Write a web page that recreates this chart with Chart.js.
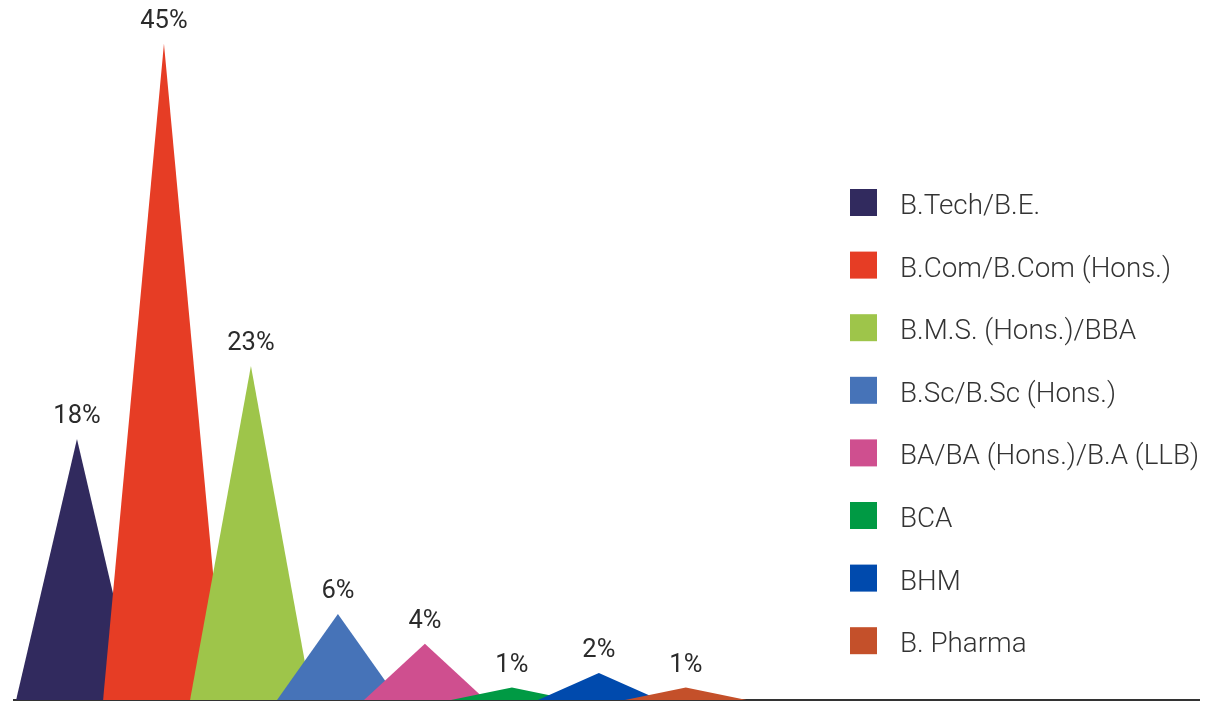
<!DOCTYPE html>
<html>
<head>
<meta charset="utf-8">
<script src="https://cdn.jsdelivr.net/npm/chart.js@4.4.1/dist/chart.umd.min.js"></script>
<style>
  html, body { margin: 0; padding: 0; background: #fff; }
  #wrap { width: 1209px; height: 701px; position: relative; }
</style>
</head>
<body>
<div id="wrap"><canvas id="chart"></canvas></div>
<script>
// degree share (%) - peak heights
const courses = ["B.Tech/B.E.", "B.Com/B.Com (Hons.)", "B.M.S. (Hons.)/BBA", "B.Sc/B.Sc (Hons.)",
  "BA/BA (Hons.)/B.A (LLB)", "BCA", "BHM", "B. Pharma"];
const shares = [17.9, 45, 22.9, 5.9, 3.85, 0.85, 1.85, 0.85];
const colors = ["#312a5e", "#e63d25", "#9ec54a", "#4673b8", "#cf4f8f", "#009a44", "#004aad", "#c4502a"];

const halfWidth = 0.7; // triangle half base, in slot units

function makeDatasets() {
  return courses.map((name, i) => ({
    label: name,
    data: [
      { x: i - halfWidth, y: 0 },
      { x: i, y: shares[i] },
      { x: i + halfWidth, y: 0 }
    ],
    backgroundColor: colors[i],
    borderWidth: 0,
    pointRadius: 0,
    tension: 0,
    fill: 'origin',
    order: courses.length - i   // later peaks sit on top
  }));
}

const peakLabels = {
  id: 'peakLabels',
  afterDatasetsDraw(chart) {
    const ctx = chart.ctx;
    ctx.save();
    ctx.font = '400 25.5px Roboto';
    ctx.fillStyle = '#2b2b2b';
    ctx.textAlign = 'center';
    ctx.textBaseline = 'alphabetic';
    chart.data.datasets.forEach((ds, i) => {
      const pt = chart.getDatasetMeta(i).data[1];
      ctx.fillText(Math.round(shares[i]) + '%', pt.x, pt.y - 16);
    });
    ctx.restore();
  }
};

const sideLegend = {
  id: 'sideLegend',
  afterDraw(chart) {
    const ctx = chart.ctx;
    ctx.save();
    ctx.font = '300 27.8px Roboto';
    ctx.textBaseline = 'alphabetic';
    courses.forEach((name, i) => {
      const top = 189 + i * 62.6;
      ctx.fillStyle = colors[i];
      ctx.fillRect(850, top, 27, 27);
      ctx.fillStyle = '#333';
      ctx.fillText(name, 900, top + 25);
    });
    ctx.restore();
  }
};

new Chart(document.getElementById('chart'), {
  type: 'line',
  data: { datasets: makeDatasets() },
  options: {
    responsive: true,
    maintainAspectRatio: false,
    animation: false,
    layout: { padding: { left: 14, right: 10, top: 0, bottom: 1 } },
    plugins: {
      legend: { display: false },
      tooltip: { enabled: false }
    },
    scales: {
      x: {
        type: 'linear',
        min: -0.724,
        max: 12.9,
        grid: { display: false, drawTicks: false },
        ticks: { display: false },
        border: { display: true, color: '#333', width: 2 }
      },
      y: {
        display: false,
        min: 0,
        max: 48
      }
    }
  },
  plugins: [peakLabels, sideLegend]
});
</script>
</body>
</html>
